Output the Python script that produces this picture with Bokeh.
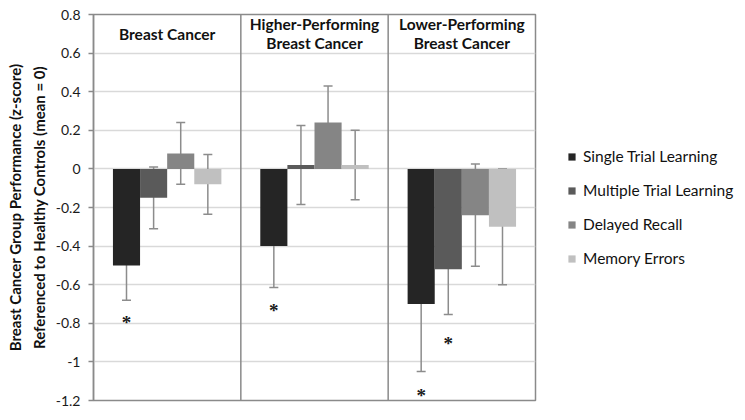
from bokeh.plotting import figure
from bokeh.models import (ColumnDataSource, FixedTicker, Span, Whisker, TeeHead,
                          Legend, LegendItem, LabelSet)
from bokeh.core.properties import value
from bokeh.embed import file_html
from bokeh.resources import INLINE

# ---------------- data ----------------
groups = ["Breast Cancer", "Higher-Performing\nBreast Cancer", "Lower-Performing\nBreast Cancer"]
series = ["Single Trial Learning", "Multiple Trial Learning", "Delayed Recall", "Memory Errors"]
colors = ["#252525", "#5a5a5a", "#858585", "#c0c0c0"]

single_trial = [-0.50, -0.40, -0.70]
multiple_trial = [-0.15, 0.02, -0.52]
delayed_recall = [0.08, 0.24, -0.24]
memory_errors = [-0.08, 0.02, -0.30]

single_trial_err = [0.18, 0.215, 0.35]
multiple_trial_err = [0.16, 0.205, 0.235]
delayed_recall_err = [0.16, 0.19, 0.265]
memory_errors_err = [0.155, 0.18, 0.30]

# significance markers: (group index, series index, y value)
sig_group = [0, 1, 2, 2]
sig_series = [0, 0, 0, 1]
sig_y = [-0.78, -0.72, -1.16, -0.89]

y_ticks = [-1.2, -1.0, -0.8, -0.6, -0.4, -0.2, 0.0, 0.2, 0.4, 0.6, 0.8]
y_tick_labels = ["-1.2", "-1", "-0.8", "-0.6", "-0.4", "-0.2", "0", "0.2", "0.4", "0.6", "0.8"]

means = [single_trial, multiple_trial, delayed_recall, memory_errors]
errs = [single_trial_err, multiple_trial_err, delayed_recall_err, memory_errors_err]

BAR_W = 0.184
FONT = "Lato"

p = figure(frame_width=442, frame_height=386, output_backend="svg", toolbar_location=None,
           x_range=(0, len(groups)), y_range=(-1.2, 0.8),
           min_border_left=93, min_border_right=0, min_border_top=14, min_border_bottom=9)
p.background_fill_color = "white"
p.outline_line_color = "#8a8a8a"
p.outline_line_width = 1.5

p.xaxis.visible = False
p.xgrid.visible = False
p.ygrid.grid_line_color = "#d9d9d9"
p.ygrid.grid_line_width = 1.5
p.yaxis.ticker = FixedTicker(ticks=y_ticks)
p.yaxis.major_label_overrides = {t: l for t, l in zip(y_ticks, y_tick_labels)}
p.yaxis.axis_line_color = "#8a8a8a"
p.yaxis.axis_line_width = 1.5
p.yaxis.major_tick_line_color = "#8a8a8a"
p.yaxis.major_tick_line_width = 1.5
p.yaxis.major_tick_out = 5
p.yaxis.major_tick_in = 0
p.yaxis.minor_tick_line_color = None
p.yaxis.major_label_text_font = FONT
p.yaxis.major_label_text_font_size = "14px"
p.yaxis.major_label_text_color = "#1a1a1a"
p.yaxis.major_label_standoff = 8
p.yaxis.axis_label = "Breast Cancer Group Performance (z-score)\nReferenced to Healthy Controls (mean = 0)"
p.yaxis.axis_label_text_font = FONT
p.yaxis.axis_label_text_font_style = "bold"
p.yaxis.axis_label_text_font_size = "15px"
p.yaxis.axis_label_text_color = "#111111"
p.yaxis.axis_label_text_line_height = 1.3
p.yaxis.axis_label_standoff = 5

# panel dividers
for i in range(1, len(groups)):
    p.add_layout(Span(location=i, dimension="height", line_color="#8a8a8a", line_width=1.5))

legend_items = []
for s, name in enumerate(series):
    xs = [g + 0.5 + (s - 1.5) * BAR_W for g in range(len(groups))]
    src = ColumnDataSource(dict(x=xs, top=means[s],
                                upper=[m + e for m, e in zip(means[s], errs[s])],
                                lower=[m - e for m, e in zip(means[s], errs[s])]))
    r = p.vbar(x="x", top="top", bottom=0, width=BAR_W, source=src,
               fill_color=colors[s], line_color=None)
    legend_items.append(LegendItem(label=name, renderers=[r]))
    w = Whisker(base="x", upper="upper", lower="lower", source=src,
                line_color="#8c8c8c", line_width=1.5,
                upper_head=TeeHead(size=9, line_color="#8c8c8c", line_width=1.5),
                lower_head=TeeHead(size=9, line_color="#8c8c8c", line_width=1.5))
    p.add_layout(w)

# significance asterisks
sig_src = ColumnDataSource(dict(
    x=[g + 0.5 + (s - 1.5) * BAR_W for g, s in zip(sig_group, sig_series)],
    y=sig_y, t=["*"] * len(sig_y)))
p.add_layout(LabelSet(x="x", y="y", text="t", source=sig_src, text_align="center",
                      text_baseline="middle", text_font="DejaVu Sans", text_font_size="19px",
                      text_font_style="bold", text_color="#1a1a1a", y_offset=-3))

# panel titles
title_src = ColumnDataSource(dict(x=[g + 0.5 for g in range(len(groups))],
                                  y=[0.8] * len(groups), t=groups))
p.text(x="x", y="y", text="t", source=title_src, text_align="center", text_baseline="middle",
       text_font=value(FONT), text_font_style="bold", text_font_size="15.5px",
       text_color="#111111", y_offset=19, text_line_height=1.1)

legend = Legend(items=legend_items, location="center_left", orientation="vertical",
                border_line_color=None, background_fill_alpha=0,
                glyph_width=9, glyph_height=9, label_standoff=7, spacing=14,
                label_height=20, padding=0, margin=32,
                label_text_font=FONT, label_text_font_size="15.5px", label_text_color="#111111")
p.add_layout(legend, "right")

open("out.html", "w").write(file_html(p, INLINE))
